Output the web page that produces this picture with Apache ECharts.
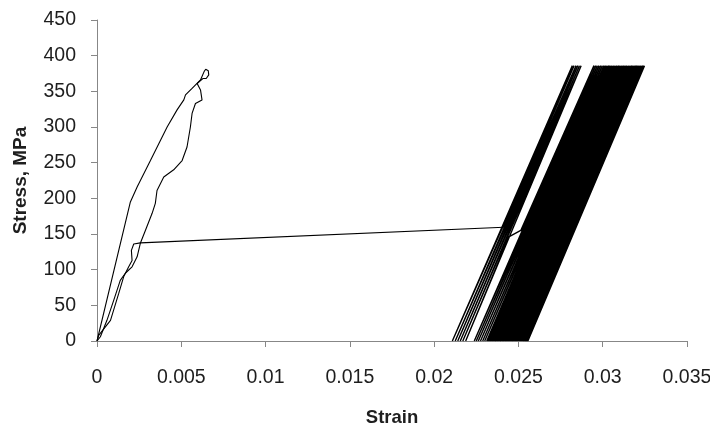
<!DOCTYPE html>
<html>
<head>
<meta charset="utf-8">
<script src="https://cdn.jsdelivr.net/npm/echarts@6/dist/echarts.min.js"></script>
<style>
  html, body { margin: 0; padding: 0; background: #fff; }
  #chart { width: 710px; height: 425px; }
</style>
</head>
<body>
<div id="chart"></div>
<script>
// Axis tick labels
const xTickLabels = ['0', '0.005', '0.01', '0.015', '0.02', '0.025', '0.03', '0.035'];
const yTickLabels = ['0', '50', '100', '150', '200', '250', '300', '350', '400', '450'];

// First monotonic loading up to the small knot at the top
const firstLoadStrain = [0, 0.00198, 0.00238, 0.00317, 0.00416, 0.00475, 0.00515, 0.00525, 0.00564, 0.00614, 0.00636, 0.00645, 0.00660, 0.00663, 0.00648, 0.00628];
const firstLoadStress = [0, 195, 216, 253, 300, 324, 338, 345, 354, 366, 378, 381, 379, 373, 368, 368];

// First unloading back to the origin
const firstUnloadStrain = [0.00628, 0.00594, 0.00614, 0.00623, 0.00584, 0.00564, 0.00554, 0.00534, 0.00505, 0.00455, 0.00396, 0.00356, 0.00346, 0.00327, 0.00287, 0.00257, 0.00238, 0.00208, 0.00168, 0.00138, 0.00099, 0.00059, 0.00020, 0];
const firstUnloadStress = [368, 361, 352, 338, 333, 319, 300, 272, 253, 240, 230, 211, 193, 179, 155, 137, 118, 104, 95, 85, 57, 29, 6, 0];

// Reloading, then the strain jump across to the cyclic region
const reloadStrain = [0, 0.00010, 0.00080, 0.00128, 0.00158, 0.00188, 0.00208, 0.00204, 0.00218, 0.00257, 0.02413];
const reloadStress = [0, 8, 29, 66, 90, 104, 113, 127, 136, 137.5, 159.5];

// Cyclic loading: peak stress and the strains at each peak / zero-stress valley
const peakStress = 386;
const leftPeak   = [0.02820, 0.02830, 0.02842, 0.02852, 0.02862, 0.02872];
const leftValley = [0.02108, 0.02125, 0.02140, 0.02155, 0.02170, 0.02187];

// Mid-cycle strain jump between the first and second groups of cycles
const jumpStrain = [0.02443, 0.02514];
const jumpStress = [146, 155];

const midPeak   = [0.02948, 0.02958, 0.02968, 0.02978, 0.02988, 0.02998, 0.03008];
const midValley = [0.02238, 0.02250, 0.02262, 0.02275, 0.02288, 0.02300, 0.02312];

const densePeak = [0.03010, 0.03016, 0.03021, 0.03027, 0.03034, 0.03039, 0.03045, 0.03052, 0.03056, 0.03063,
                   0.03068, 0.03074, 0.03081, 0.03085, 0.03092, 0.03097, 0.03102, 0.03109, 0.03114, 0.03120,
                   0.03125, 0.03130, 0.03137, 0.03142, 0.03147, 0.03154, 0.03158, 0.03164, 0.03170, 0.03175,
                   0.03180, 0.03186, 0.03191, 0.03196, 0.03201, 0.03206, 0.03211, 0.03216, 0.03220, 0.03225,
                   0.03229, 0.03233, 0.03237, 0.03240, 0.03243, 0.03246, 0.03248];
const denseValley = [0.02318, 0.02324, 0.02330, 0.02335, 0.02342, 0.02347, 0.02353, 0.02360, 0.02364, 0.02371,
                     0.02376, 0.02382, 0.02389, 0.02393, 0.02400, 0.02405, 0.02410, 0.02417, 0.02422, 0.02428,
                     0.02433, 0.02438, 0.02445, 0.02450, 0.02455, 0.02462, 0.02466, 0.02472, 0.02478, 0.02483,
                     0.02488, 0.02494, 0.02499, 0.02504, 0.02509, 0.02514, 0.02519, 0.02524, 0.02528, 0.02533,
                     0.02537, 0.02541, 0.02545, 0.02548, 0.02551, 0.02554, 0.02556];

function pairs(strain, stress) {
  return strain.map((s, i) => [s, stress[i]]);
}
function cycles(peaks, valleys) {
  const out = [];
  peaks.forEach((p, i) => {
    out.push([p, peakStress]);
    out.push([valleys[i], 0]);
  });
  return out;
}

const firstLoad = pairs(firstLoadStrain, firstLoadStress);
const firstUnload = pairs(firstUnloadStrain, firstUnloadStress);
const reload = pairs(reloadStrain, reloadStress);
const cyclic = [reload[reload.length - 1]]
  .concat(cycles(leftPeak, leftValley))
  .concat(pairs(jumpStrain, jumpStress))
  .concat(cycles(midPeak, midValley))
  .concat(cycles(densePeak, denseValley));

const font = 'Liberation Sans, Arial, sans-serif';
const axisGrey = '#878787';
const textColor = '#1e1e1e';

const lineSeries = (data, width) => ({
  type: 'line',
  data: data,
  showSymbol: false,
  symbol: 'none',
  silent: true,
  lineStyle: { color: '#000', width: width },
  animation: false
});

const chart = echarts.init(document.getElementById('chart'), null, { renderer: 'canvas' });
chart.setOption({
  backgroundColor: '#fff',
  animation: false,
  grid: { left: 97, right: 23, top: 20, bottom: 84, containLabel: false, outerBoundsMode: 'none' },
  xAxis: {
    type: 'value',
    min: 0, max: 0.035, interval: 0.005,
    name: 'Strain',
    nameLocation: 'middle',
    nameGap: 67,
    nameTextStyle: { fontFamily: font, fontWeight: 'bold', fontSize: 18.5, color: textColor },
    axisLine: { show: true, lineStyle: { color: axisGrey, width: 1 } },
    axisTick: { show: true, length: 6, inside: false, lineStyle: { color: axisGrey } },
    axisLabel: {
      margin: 27, fontFamily: font, fontSize: 19.5, color: textColor,
      formatter: (v) => xTickLabels[Math.round(v / 0.005)]
    },
    splitLine: { show: false }
  },
  yAxis: {
    type: 'value',
    min: 0, max: 450, interval: 50,
    name: 'Stress, MPa',
    nameLocation: 'middle',
    nameGap: 67,
    nameTextStyle: { fontFamily: font, fontWeight: 'bold', fontSize: 19, color: textColor },
    axisLine: { show: true, lineStyle: { color: axisGrey, width: 1 } },
    axisTick: { show: true, length: 6, inside: false, lineStyle: { color: axisGrey } },
    axisLabel: {
      margin: 21, fontFamily: font, fontSize: 19.5, color: textColor,
      formatter: (v) => yTickLabels[Math.round(v / 50)]
    },
    splitLine: { show: false }
  },
  series: [
    lineSeries(firstLoad, 1.1),
    lineSeries(firstUnload, 1.1),
    lineSeries(reload, 1.1),
    lineSeries(cyclic, 1.4)
  ]
});
</script>
</body>
</html>
